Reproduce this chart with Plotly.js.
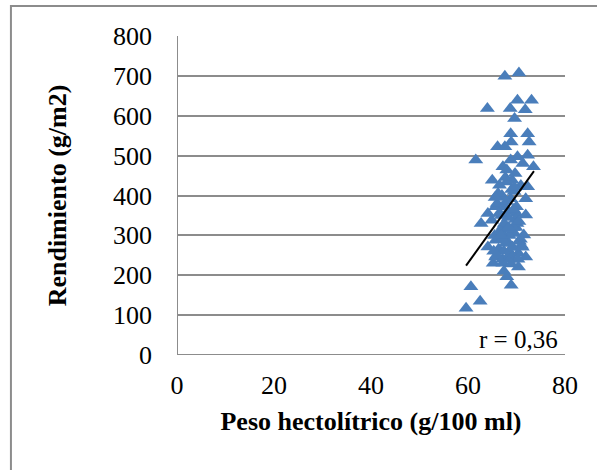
<!DOCTYPE html>
<html>
<head>
<meta charset="utf-8">
<script src="https://cdn.plot.ly/plotly-3.0.1.min.js"></script>
<style>
html,body{margin:0;padding:0;background:#fff;}
#chart{width:597px;height:470px;}
</style>
</head>
<body>
<div id="chart"></div>
<script>
// Peso hectolítrico (g/100 ml)
const pesoX = [67.6,70.5,64.0,61.6,60.6,59.6,62.5,73.1,70.2,71.8,68.7,69.6,68.8,72.3,72.6,68.9,66.1,67.6,72.3,70.2,
73.5,71.3,68.8,67.2,65.0,68.0,66.5,72.3,71.9,68.8,65.7,64.1,70.0,71.9,62.7,64.9,67.2,69.6,71.5,64.1,
65.7,68.4,70.4,71.9,65.2,67.2,70.4,68.0,68.9,65.7,66.5,68.8,67.6,70.0,66.5,69.1,68.0,69.5,67.0,66.0,
68.2,69.8,67.5,66.8,68.5,70.8,67.8,69.2,66.3,68.6,67.1,69.9,65.5,70.6,68.3,67.4,69.4,66.9,68.1,70.1,
65.9,67.9,69.0,71.0,66.6,68.7,67.3,70.3,65.3,69.3,66.2,67.7,69.7,70.9,66.4,68.4,65.6,67.0,69.1,70.5,
67.4,68.9,66.8,69.6,71.2];
// Rendimiento (g/m2)
const rendY = [699,707,618,489,171,117,135,639,639,615,618,593,555,555,534,534,522,522,501,497,
472,480,489,472,438,434,426,422,392,392,372,355,355,351,330,338,322,305,301,271,
288,280,255,246,230,230,221,196,175,246,263,255,372,372,397,438,464,410,400,380,
360,340,330,310,300,290,280,270,265,250,240,320,300,285,345,260,365,350,315,330,
250,385,415,275,310,240,295,240,260,320,405,445,455,425,355,320,395,290,270,335,
210,228,300,420,270];
// Línea de tendencia (extremos)
const trendX = [59.6,73.6];
const trendY = [224,461];
const rText = "r = 0,36";

const serif = "'Liberation Serif', 'Times New Roman', serif";
const data = [
  {x: pesoX, y: rendY, type: "scatter", mode: "markers",
   marker: {symbol: "triangle-up", size: 13, color: "#4A7EBB", line: {width: 0}},
   hoverinfo: "x+y"},
  {x: trendX, y: trendY, type: "scatter", mode: "lines",
   line: {color: "#000000", width: 2}, hoverinfo: "skip"}
];
const layout = {
  width: 597, height: 470,
  margin: {l: 177, r: 32, t: 36, b: 115},
  paper_bgcolor: "#fff", plot_bgcolor: "#fff",
  showlegend: false,
  font: {family: serif, size: 26, color: "#000"},
  xaxis: {range: [0, 80], tickvals: [0, 20, 40, 60, 80], showgrid: false, zeroline: false,
          showline: false, ticks: "", ticklabelstandoff: 12, tickfont: {family: serif, size: 26},
          title: {text: "<b>Peso hectolítrico (g/100 ml)</b>", font: {family: serif, size: 26}, standoff: 12}},
  yaxis: {range: [0, 800], tickvals: [0,100,200,300,400,500,600,700,800], showgrid: true,
          gridcolor: "#8C8C8C", gridwidth: 2, zeroline: false, showline: false, ticks: "",
          ticklabelstandoff: 24, tickfont: {family: serif, size: 26},
          title: {text: "<b>Rendimiento (g/m2)</b>", font: {family: serif, size: 26}, standoff: 38}},
  shapes: [
    {type: "line", xref: "x", yref: "y", x0: 0, x1: 0, y0: 0, y1: 800, line: {color: "#8C8C8C", width: 2}},
    {type: "line", xref: "x", yref: "y", x0: 0, x1: 80, y0: 0, y1: 0, line: {color: "#8C8C8C", width: 2}},
    {type: "rect", xref: "paper", yref: "paper", x0: -0.428, x1: 1.2, y0: -0.6, y1: 1.094,
     line: {color: "#8C8C8C", width: 2}, layer: "below"}
  ],
  annotations: [
    {x: 79, y: 40, xref: "x", yref: "y", text: rText, showarrow: false, xanchor: "right", yanchor: "middle",
     font: {family: serif, size: 25, color: "#000"}}
  ]
};
Plotly.newPlot("chart", data, layout, {displayModeBar: false, staticPlot: true});
</script>
</body>
</html>
